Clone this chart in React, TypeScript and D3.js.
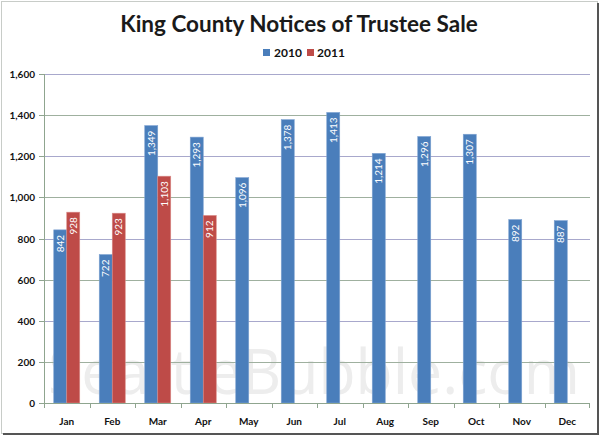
import React from "react";
import * as d3 from "d3";

const months = ["Jan", "Feb", "Mar", "Apr", "May", "Jun", "Jul", "Aug", "Sep", "Oct", "Nov", "Dec"];
const values2010 = [842, 722, 1349, 1293, 1096, 1378, 1413, 1214, 1296, 1307, 892, 887];
const values2011 = [928, 923, 1103, 912];
const seriesNames = ["2010", "2011"];
const yTicks = [0, 200, 400, 600, 800, 1000, 1200, 1400, 1600];

const W = 600;
const H = 436;
const left = 44;
const right = 590;
const top = 74;
const bottom = 403;
const colors = ["#4a7ebb", "#be4b48"];
const FONT = "Lato, 'Open Sans', sans-serif";

export default function App() {
  const x = d3.scaleBand<string>().domain(months).range([left, right]).paddingInner(0).paddingOuter(0);
  const y = d3.scaleLinear().domain([0, 1600]).range([bottom, top]);
  const bw = x.bandwidth();
  const barW = 13;
  const inner = d3.scaleBand<string>().domain(seriesNames).range([(bw - 2 * barW) / 2, (bw + 2 * barW) / 2]);
  const fmt = d3.format(",");
  const series = [values2010, values2011];

  return (
    <svg width={W} height={H} style={{ position: "absolute", left: 0, top: 0, display: "block" }} fontFamily={FONT}>
      <rect x={0} y={0} width={W} height={H} fill="#ffffff" />
      {/* frame */}
      <rect x={1.5} y={1.5} width={W - 4} height={H - 4} fill="none" stroke="#c8ccc8" strokeWidth={1} />
      <line x1={W - 2} y1={3} x2={W - 2} y2={H - 1} stroke="#555" strokeWidth={2} />
      <line x1={3} y1={H - 2} x2={W - 1} y2={H - 2} stroke="#555" strokeWidth={2} />
      {/* watermark */}
      <text x={48} y={394} fontSize={62} fill="#ededed" fontFamily="'Open Sans', sans-serif" textLength={532} lengthAdjust="spacingAndGlyphs">SeattleBubble.com</text>
      {/* gridlines */}
      {yTicks.map((t, i) => (
        <line key={"g" + t} x1={left} x2={right} y1={Math.round(y(t)) + 0.5} y2={Math.round(y(t)) + 0.5} stroke={i % 2 === 0 ? "#a8a8cc" : "#9fb09f"} strokeWidth={1} />
      ))}
      {/* title */}
      <text x={299} y={32} textAnchor="middle" fontSize={22.5} fontWeight="bold" fill="#1a1a1a">King County Notices of Trustee Sale</text>
      {/* legend */}
      <rect x={263} y={49} width={7} height={7} fill={colors[0]} />
      <text x={274} y={57} fontSize={12} fontWeight="bold" fill="#111">{seriesNames[0]}</text>
      <rect x={307} y={49} width={7} height={7} fill={colors[1]} />
      <text x={317} y={57} fontSize={12} fontWeight="bold" fill="#111">{seriesNames[1]}</text>
      {/* bars */}
      {series.map((vals, si) =>
        vals.map((v, mi) => {
          const bx = (x(months[mi]) as number) + (inner(seriesNames[si]) as number);
          const by = y(v);
          return (
            <g key={si + "-" + mi}>
              <rect x={bx} y={by} width={barW} height={bottom - by} fill={colors[si]} stroke={si === 0 ? "#7fa3d2" : "#d98a88"} strokeWidth={0.6} />
              <text
                transform={`translate(${bx + barW / 2 + 3.5},${by + 5}) rotate(-90)`}
                textAnchor="end"
                fontSize={10}
                fill="#ffffff"
              >
                {fmt(v)}
              </text>
            </g>
          );
        })
      )}
      {/* axes */}
      <line x1={left + 0.5} x2={left + 0.5} y1={top} y2={bottom} stroke="#8fa58f" />
      <line x1={left} x2={right} y1={bottom + 0.5} y2={bottom + 0.5} stroke="#8fa58f" />
      {yTicks.map((t) => (
        <g key={"yt" + t}>
          <line x1={left - 5} x2={left} y1={Math.round(y(t)) + 0.5} y2={Math.round(y(t)) + 0.5} stroke="#8fa58f" />
          <text x={35} y={y(t) + 4} textAnchor="end" fontSize={10} fontWeight="bold" fill="#111">{fmt(t)}</text>
        </g>
      ))}
      {months.map((m) => (
        <line key={"xt" + m} x1={Math.round(x(m) as number) + 0.5} x2={Math.round(x(m) as number) + 0.5} y1={bottom} y2={bottom + 5} stroke="#8fa58f" />
      ))}
      <line x1={right - 0.5} x2={right - 0.5} y1={bottom} y2={bottom + 5} stroke="#8fa58f" />
      {months.map((m) => (
        <text key={"xl" + m} x={(x(m) as number) + bw / 2} y={425} textAnchor="middle" fontSize={10} fontWeight="bold" fill="#111">{m}</text>
      ))}
    </svg>
  );
}
